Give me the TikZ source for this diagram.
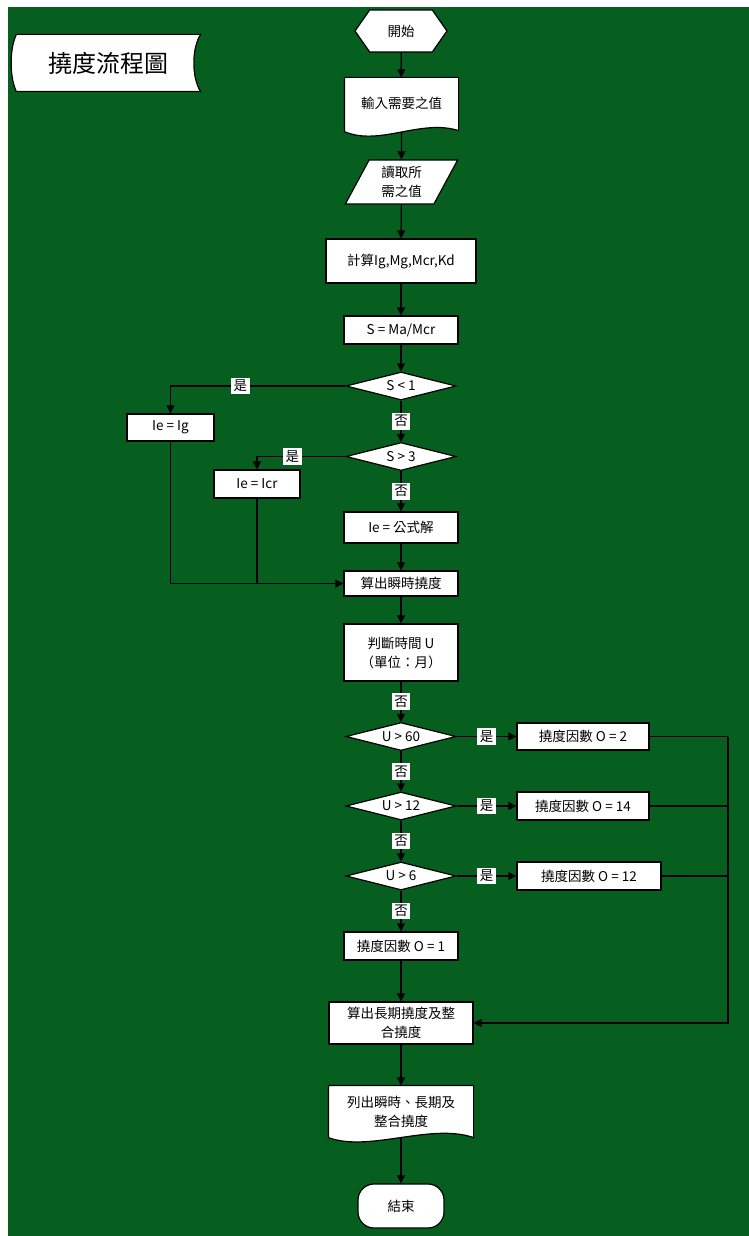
\documentclass[tikz,border=0pt]{standalone}
\usepackage{fontspec}
\newfontfamily\cjk{Noto Sans CJK TC}
\usetikzlibrary{arrows.meta, calc, backgrounds, shapes.geometric, shapes.symbols}
\definecolor{boardgreen}{RGB}{6,94,31}
\tikzset{
  shapeline/.style={draw, fill=white, line width=1.2pt},
  flow/.style={shapeline, font=\cjk\fontsize{13.5}{19}\selectfont, inner sep=1pt, align=center},
  procbox/.style={flow, rectangle},
  docbox/.style={flow, draw=none, fill=none},
  decide/.style={flow, diamond, aspect=4, minimum width=110pt, minimum height=28pt, inner sep=0pt},
  tag/.style={fill=white, font=\cjk\fontsize{13.5}{14}\selectfont, inner sep=2.5pt},
  arr/.style={-{Triangle[length=8pt, width=8pt]}, line width=1.2pt},
  link/.style={line width=1.2pt},
}
\begin{document}
\begin{tikzpicture}[x=1pt, y=-1pt]
  \useasboundingbox (0,0) rectangle (749,1236);

  % title and upper chain
  \node[docbox, font=\cjk\fontsize{24}{26}\selectfont, minimum width=183pt, minimum height=56pt] (title) at (108.5,63) {撓度流程圖};
  \node[flow, signal, signal to=east and west, signal pointer angle=110, minimum width=92pt, minimum height=42pt] (start) at (401,31) {開始};
  \node[docbox, minimum width=113pt, minimum height=50pt] (inp) at (401.5,103) {輸入需要之值};
  \coordinate (inp-b) at ($(inp.south)+(0,3.6)$);
  \node[flow, trapezium, trapezium left angle=65, trapezium right angle=115, trapezium stretches=true,
    minimum width=113pt, minimum height=44pt] (rd) at (401.5,182) {讀取所\\需之值};
  \node[procbox, minimum width=150pt, minimum height=44pt] (calc) at (401,261) {計算Ig,Mg,Mcr,Kd};
  \node[procbox, minimum width=114pt, minimum height=28pt] (ratio) at (401,330) {S = Ma/Mcr};

  % effective inertia
  \node[decide] (lt1) at (401,386) {S < 1};
  \node[procbox, minimum width=87pt, minimum height=27pt] (ieg) at (170.5,427.5) {Ie = Ig};
  \node[decide] (gt3) at (401,456.5) {S > 3};
  \node[procbox, minimum width=86pt, minimum height=28pt] (iecr) at (257,484) {Ie = Icr};
  \node[procbox, minimum width=114pt, minimum height=31pt] (formula) at (401,527.5) {Ie = 公式解};
  \node[procbox, minimum width=114pt, minimum height=25pt] (inst) at (401,583.5) {算出瞬時撓度};

  % time factor
  \node[procbox, minimum width=114pt, minimum height=57pt] (time) at (401,652.5) {判斷時間 U\\（單位：月）};
  \node[decide] (u60) at (401,736.5) {U > 60};
  \node[procbox, minimum width=132pt, minimum height=27pt] (k2) at (583,736.5) {撓度因數 O = 2};
  \node[decide] (u12) at (401,806) {U > 12};
  \node[procbox, minimum width=132pt, minimum height=28pt] (k14) at (583,806) {撓度因數 O = 14};
  \node[decide] (u6) at (401,876) {U > 6};
  \node[procbox, minimum width=144pt, minimum height=28pt] (k12) at (589,876) {撓度因數 O = 12};
  \node[procbox, minimum width=114pt, minimum height=28pt] (k1) at (401,946) {撓度因數 O = 1};
  \coordinate (rail) at (728,736.5);

  % results
  \node[procbox, minimum width=144pt, minimum height=42pt] (lt) at (401,1023) {算出長期撓度及整\\合撓度};
  \node[docbox, minimum width=144pt, minimum height=51pt] (rep) at (401,1111.5) {列出瞬時、長期及\\整合撓度};
  \node[procbox, rounded corners=16pt, minimum width=86pt, minimum height=44pt] (stop) at (401,1206) {結束};

  \begin{scope}[on background layer]
    \fill[boardgreen] (8,7) rectangle (749,1236);
    \draw[shapeline] (title.north west) -- (title.north east)
      .. controls ($(title.north east)+(-9,14)$) and ($(title.south east)+(-9,-14)$) .. (title.south east)
      -- (title.south west)
      .. controls ($(title.south west)+(-7,-14)$) and ($(title.north west)+(-7,14)$) .. cycle;
    \draw[shapeline] (inp.north west) -- (inp.north east) -- ($(inp.south east)+(0,2)$)
      .. controls ($(inp.south east)+(-38,-10)$) and ($(inp.south west)+(35,18)$) .. ($(inp.south west)+(0,3)$) -- cycle;
    \draw[shapeline] (rep.north west) -- (rep.north east) -- (rep.south east)
      .. controls ($(rep.south east)+(-43,-15)$) and ($(rep.south west)+(41,15)$) .. (rep.south west) -- cycle;
  \end{scope}

  % connectors
  \draw[arr] (start) -- (inp);
  \draw[arr] (inp-b) -- (rd);
  \draw[arr] (rd) -- (calc);
  \draw[arr] (calc) -- (ratio);
  \draw[arr] (ratio) -- (lt1);
  \draw[arr] (lt1.west) -| node[tag, pos=0.3] {是} (ieg);
  \draw[arr] (lt1) -- node[tag] {否} (gt3);
  \draw[arr] (gt3.west) -| node[tag, pos=0.3] {是} (iecr);
  \draw[arr] (gt3) -- node[tag] {否} (formula);
  \draw[arr] (formula) -- (inst);
  \draw[arr] (ieg) |- (inst);
  \draw[link] (iecr) -- (iecr |- inst);
  \draw[arr] (inst) -- (time);
  \draw[arr] (time) -- node[tag] {否} (u60);
  \draw[arr] (u60) -- node[tag] {是} (k2);
  \draw[arr] (u60) -- node[tag] {否} (u12);
  \draw[arr] (u12) -- node[tag] {是} (k14);
  \draw[arr] (u12) -- node[tag] {否} (u6);
  \draw[arr] (u6) -- node[tag] {是} (k12);
  \draw[arr] (u6) -- node[tag] {否} (k1);
  \draw[link] (k2) -- (rail);
  \draw[link] (k14) -- (k14 -| rail);
  \draw[link] (k12) -- (k12 -| rail);
  \draw[arr] (rail) |- (lt);
  \draw[arr] (k1) -- (lt);
  \draw[arr] (lt) -- (rep);
  \draw[arr] (rep.south) -- (stop);
\end{tikzpicture}
\end{document}
